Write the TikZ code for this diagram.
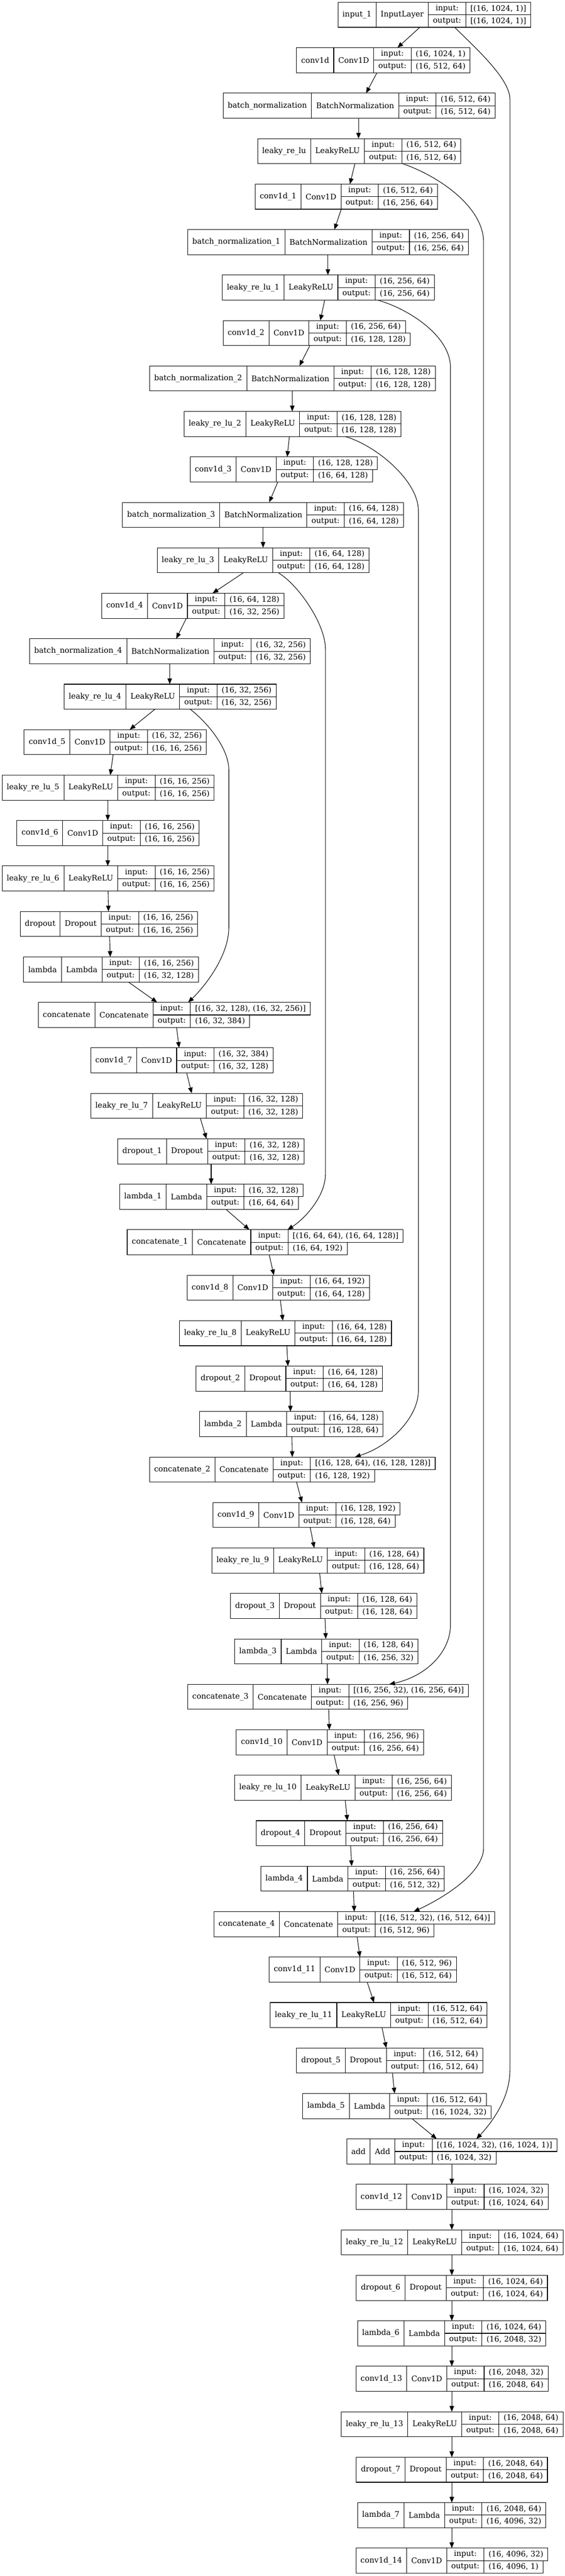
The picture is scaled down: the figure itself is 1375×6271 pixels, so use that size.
\documentclass[tikz,border=0pt]{standalone}
\usepackage{fontspec}
\setmainfont{DejaVu Serif}
\usetikzlibrary{arrows.meta}
\newcommand\lyrfont{\fontsize{18.67pt}{22pt}\selectfont}
\tikzset{
  field/.style={draw, line width=1.33pt, outer sep=0pt, inner xsep=11.2pt, inner ysep=0pt,
                minimum height=61pt, anchor=north west, font=\lyrfont},
  cell/.style={field, minimum height=30.5pt},
  arr/.style={line width=1.33pt, -{Triangle[length=14pt, width=11pt]}},
}
% #1 id, #2 row, #3 left x, #4 name, #5 class, #6 input shape, #7 output shape
\newcommand\lay[7]{%
  \pgfmathsetmacro\ytop{5.5+110.67*(#2-1)}%
  \setbox0=\hbox{\lyrfont #6}\setbox2=\hbox{\lyrfont #7}%
  \dimen0=\wd0 \ifdim\wd2>\dimen0 \dimen0=\wd2 \fi
  \advance\dimen0 by 22.4pt
  \edef\shw{\the\dimen0}%
  \node[field] (#1n) at (#3,\ytop) {#4};
  \node[field] (#1c) at (#1n.north east) {#5};
  \node[cell, minimum width=91pt] (#1i) at (#1c.north east) {input:};
  \node[cell, minimum width=91pt] (#1o) at (#1i.south west) {output:};
  \node[cell, minimum width=\shw] (#1si) at (#1i.north east) {#6};
  \node[cell, minimum width=\shw] (#1so) at (#1si.south west) {#7};
}
\newcommand\conn[4]{%
  \coordinate (ca) at (#3,0); \coordinate (cb) at (#4,0);
  \draw[arr] (ca |- #1n.south) -- (cb |- #2n.north);
}
\begin{document}
\begin{tikzpicture}[x=1pt,y=-1pt]
\fill[white] (0,0) rectangle (1375,6271);
\useasboundingbox (0,0) rectangle (1375,6271);

\lay{L1}{1}{822.8}{input\_1}{InputLayer}{[(16, 1024, 1)]}{[(16, 1024, 1)]}
\lay{L2}{2}{722.2}{conv1d}{Conv1D}{(16, 1024, 1)}{(16, 512, 64)}
\lay{L3}{3}{543.2}{batch\_normalization}{BatchNormalization}{(16, 512, 64)}{(16, 512, 64)}
\lay{L4}{4}{627.4}{leaky\_re\_lu}{LeakyReLU}{(16, 512, 64)}{(16, 512, 64)}
\lay{L5}{5}{621.3}{conv1d\_1}{Conv1D}{(16, 512, 64)}{(16, 256, 64)}
\lay{L6}{6}{457.2}{batch\_normalization\_1}{BatchNormalization}{(16, 256, 64)}{(16, 256, 64)}
\lay{L7}{7}{541.4}{leaky\_re\_lu\_1}{LeakyReLU}{(16, 256, 64)}{(16, 256, 64)}
\lay{L8}{8}{543.2}{conv1d\_2}{Conv1D}{(16, 256, 64)}{(16, 128, 128)}
\lay{L9}{9}{364.2}{batch\_normalization\_2}{BatchNormalization}{(16, 128, 128)}{(16, 128, 128)}
\lay{L10}{10}{448.4}{leaky\_re\_lu\_2}{LeakyReLU}{(16, 128, 128)}{(16, 128, 128)}
\lay{L11}{11}{463.3}{conv1d\_3}{Conv1D}{(16, 128, 128)}{(16, 64, 128)}
\lay{L12}{12}{298.4}{batch\_normalization\_3}{BatchNormalization}{(16, 64, 128)}{(16, 64, 128)}
\lay{L13}{13}{382.6}{leaky\_re\_lu\_3}{LeakyReLU}{(16, 64, 128)}{(16, 64, 128)}
\lay{L14}{14}{247.5}{conv1d\_4}{Conv1D}{(16, 64, 128)}{(16, 32, 256)}
\lay{L15}{15}{72.0}{batch\_normalization\_4}{BatchNormalization}{(16, 32, 256)}{(16, 32, 256)}
\lay{L16}{16}{156.2}{leaky\_re\_lu\_4}{LeakyReLU}{(16, 32, 256)}{(16, 32, 256)}
\lay{L17}{17}{58.8}{conv1d\_5}{Conv1D}{(16, 32, 256)}{(16, 16, 256)}
\lay{L18}{18}{5.3}{leaky\_re\_lu\_5}{LeakyReLU}{(16, 16, 256)}{(16, 16, 256)}
\lay{L19}{19}{41.2}{conv1d\_6}{Conv1D}{(16, 16, 256)}{(16, 16, 256)}
\lay{L20}{20}{5.3}{leaky\_re\_lu\_6}{LeakyReLU}{(16, 16, 256)}{(16, 16, 256)}
\lay{L21}{21}{49.1}{dropout}{Dropout}{(16, 16, 256)}{(16, 16, 256)}
\lay{L22}{22}{57.6}{lambda}{Lambda}{(16, 16, 256)}{(16, 32, 128)}
\lay{L23}{23}{93.2}{concatenate}{Concatenate}{[(16, 32, 128), (16, 32, 256)]}{(16, 32, 384)}
\lay{L24}{24}{221.1}{conv1d\_7}{Conv1D}{(16, 32, 384)}{(16, 32, 128)}
\lay{L25}{25}{221.1}{leaky\_re\_lu\_7}{LeakyReLU}{(16, 32, 128)}{(16, 32, 128)}
\lay{L26}{26}{286.9}{dropout\_1}{Dropout}{(16, 32, 128)}{(16, 32, 128)}
\lay{L27}{27}{291.3}{lambda\_1}{Lambda}{(16, 32, 128)}{(16, 64, 64)}
\lay{L28}{28}{309.8}{concatenate\_1}{Concatenate}{[(16, 64, 64), (16, 64, 128)]}{(16, 64, 192)}
\lay{L29}{29}{455.4}{conv1d\_8}{Conv1D}{(16, 64, 192)}{(16, 64, 128)}
\lay{L30}{30}{437.0}{leaky\_re\_lu\_8}{LeakyReLU}{(16, 64, 128)}{(16, 64, 128)}
\lay{L31}{31}{477.4}{dropout\_2}{Dropout}{(16, 64, 128)}{(16, 64, 128)}
\lay{L32}{32}{486.1}{lambda\_2}{Lambda}{(16, 64, 128)}{(16, 128, 64)}
\lay{L33}{33}{364.2}{concatenate\_2}{Concatenate}{[(16, 128, 64), (16, 128, 128)]}{(16, 128, 192)}
\lay{L34}{34}{518.6}{conv1d\_9}{Conv1D}{(16, 128, 192)}{(16, 128, 64)}
\lay{L35}{35}{516.0}{leaky\_re\_lu\_9}{LeakyReLU}{(16, 128, 64)}{(16, 128, 64)}
\lay{L36}{36}{561.6}{dropout\_3}{Dropout}{(16, 128, 64)}{(16, 128, 64)}
\lay{L37}{37}{571.3}{lambda\_3}{Lambda}{(16, 128, 64)}{(16, 256, 32)}
\lay{L38}{38}{457.2}{concatenate\_3}{Concatenate}{[(16, 256, 32), (16, 256, 64)]}{(16, 256, 96)}
\lay{L39}{39}{575.6}{conv1d\_10}{Conv1D}{(16, 256, 96)}{(16, 256, 64)}
\lay{L40}{40}{571.3}{leaky\_re\_lu\_10}{LeakyReLU}{(16, 256, 64)}{(16, 256, 64)}
\lay{L41}{41}{623.9}{dropout\_4}{Dropout}{(16, 256, 64)}{(16, 256, 64)}
\lay{L42}{42}{635.3}{lambda\_4}{Lambda}{(16, 256, 64)}{(16, 512, 32)}
\lay{L43}{43}{521.2}{concatenate\_4}{Concatenate}{[(16, 512, 32), (16, 512, 64)]}{(16, 512, 96)}
\lay{L44}{44}{655.5}{conv1d\_11}{Conv1D}{(16, 512, 96)}{(16, 512, 64)}
\lay{L45}{45}{658.1}{leaky\_re\_lu\_11}{LeakyReLU}{(16, 512, 64)}{(16, 512, 64)}
\lay{L46}{46}{722.2}{dropout\_5}{Dropout}{(16, 512, 64)}{(16, 512, 64)}
\lay{L47}{47}{737.1}{lambda\_5}{Lambda}{(16, 512, 64)}{(16, 1024, 32)}
\lay{L48}{48}{844.2}{add}{Add}{[(16, 1024, 32), (16, 1024, 1)]}{(16, 1024, 32)}
\lay{L49}{49}{867.0}{conv1d\_12}{Conv1D}{(16, 1024, 32)}{(16, 1024, 64)}
\lay{L50}{50}{831.0}{leaky\_re\_lu\_12}{LeakyReLU}{(16, 1024, 64)}{(16, 1024, 64)}
\lay{L51}{51}{867.8}{dropout\_6}{Dropout}{(16, 1024, 64)}{(16, 1024, 64)}
\lay{L52}{52}{870.5}{lambda\_6}{Lambda}{(16, 1024, 64)}{(16, 2048, 32)}
\lay{L53}{53}{867.0}{conv1d\_13}{Conv1D}{(16, 2048, 32)}{(16, 2048, 64)}
\lay{L54}{54}{831.0}{leaky\_re\_lu\_13}{LeakyReLU}{(16, 2048, 64)}{(16, 2048, 64)}
\lay{L55}{55}{867.8}{dropout\_7}{Dropout}{(16, 2048, 64)}{(16, 2048, 64)}
\lay{L56}{56}{870.5}{lambda\_7}{Lambda}{(16, 2048, 64)}{(16, 4096, 32)}
\lay{L57}{57}{866.7}{conv1d\_14}{Conv1D}{(16, 4096, 32)}{(16, 4096, 1)}

% main chain
\conn{L1}{L2}{1022.3}{967.9}
\conn{L2}{L3}{917.9}{891.5}
\conn{L3}{L4}{873.1}{873.1}
\conn{L4}{L5}{864.3}{852.1}
\conn{L5}{L6}{831.0}{814.3}
\conn{L6}{L7}{798.5}{798.5}
\conn{L7}{L8}{790.6}{780.1}
\conn{L8}{L9}{754.6}{729.2}
\conn{L9}{L10}{711.7}{711.7}
\conn{L10}{L11}{704.6}{699.4}
\conn{L11}{L12}{676.6}{655.5}
\conn{L12}{L13}{640.6}{640.6}
\conn{L13}{L14}{592.3}{517.7}
\conn{L14}{L15}{453.7}{429.1}
\conn{L15}{L16}{413.3}{413.3}
\conn{L16}{L17}{377.3}{315.9}
\conn{L17}{L18}{275.5}{268.5}
\conn{L18}{L19}{262.4}{262.4}
\conn{L19}{L20}{262.4}{262.4}
\conn{L20}{L21}{263.3}{264.1}
\conn{L21}{L22}{266.8}{268.5}
\conn{L22}{L23}{312.7}{382.7}
\conn{L23}{L24}{430.0}{436.1}
\conn{L24}{L25}{454.6}{466.8}
\conn{L25}{L26}{487.9}{502.8}
\conn{L26}{L27}{514.2}{514.2}
\conn{L27}{L28}{550.2}{607.2}
\conn{L28}{L29}{655.5}{666.9}
\conn{L29}{L30}{682.7}{688.8}
\conn{L30}{L31}{698.5}{701.1}
\conn{L31}{L32}{706.4}{707.3}
\conn{L32}{L33}{710.8}{711.7}
\conn{L33}{L34}{722.2}{735.3}
\conn{L34}{L35}{755.5}{765.2}
\conn{L35}{L36}{778.3}{783.6}
\conn{L36}{L37}{791.5}{793.3}
\conn{L37}{L38}{796.8}{797.6}
\conn{L38}{L39}{800.3}{802.0}
\conn{L39}{L40}{813.4}{824.8}
\conn{L40}{L41}{840.6}{845.9}
\conn{L41}{L42}{853.8}{856.4}
\conn{L42}{L43}{860.8}{862.6}
\conn{L43}{L44}{869.6}{876.6}
\conn{L44}{L45}{894.2}{910.8}
\conn{L45}{L46}{930.2}{940.7}
\conn{L46}{L47}{955.6}{960.9}
\conn{L47}{L48}{1003.0}{1063.5}
\conn{L48}{L49}{1100.2}{1100.2}
\conn{L49}{L50}{1100.2}{1100.2}
\conn{L50}{L51}{1100.2}{1100.2}
\conn{L51}{L52}{1100.2}{1100.2}
\conn{L52}{L53}{1100.2}{1100.2}
\conn{L53}{L54}{1100.2}{1100.2}
\conn{L54}{L55}{1100.2}{1100.2}
\conn{L55}{L56}{1100.2}{1100.2}
\conn{L56}{L57}{1100.2}{1100.2}

% skip connections
\coordinate (ca) at (1107.4,0); \coordinate (cb) at (1160.1,0);
\draw[arr] (ca |- L1n.south) .. controls (1152.4,112.3) and (1241.7,190) .. (1241.7,241.5)
  -- (1241.7,5040) .. controls (1241.7,5110) and (1195,5170) .. (cb |- L48n.north);
\coordinate (ca) at (980.2,0); \coordinate (cb) at (1007.4,0);
\draw[arr] (ca |- L4n.south) .. controls (1060,425) and (1177.6,500) .. (1177.6,590)
  -- (1177.6,4498) .. controls (1177.6,4560) and (1080,4620) .. (cb |- L43n.north);
\coordinate (ca) at (919.6,0); \coordinate (cb) at (947.7,0);
\draw[arr] (ca |- L7n.south) .. controls (999.6,753.4) and (1096.9,820) .. (1096.9,894)
  -- (1096.9,3956) .. controls (1096.9,4020) and (1040,4080) .. (cb |- L38n.north);
\coordinate (ca) at (839.8,0); \coordinate (cb) at (864.3,0);
\draw[arr] (ca |- L10n.south) .. controls (914.8,1083.5) and (1018.8,1170) .. (1018.8,1243)
  -- (1018.8,3385.8) .. controls (1018.8,3450) and (950,3520) .. (cb |- L33n.north);
\coordinate (ca) at (678.3,0); \coordinate (cb) at (700.2,0);
\draw[arr] (ca |- L13n.south) .. controls (728.3,1425.6) and (792.4,1520) .. (792.4,1579.4)
  -- (792.4,2859.3) .. controls (792.4,2910) and (745,2965) .. (cb |- L28n.north);
\coordinate (ca) at (463.3,0); \coordinate (cb) at (458.1,0);
\draw[arr] (ca |- L16n.south) .. controls (503.3,1757.7) and (557.2,1820) .. (557.2,1874.6)
  -- (557.2,2257.5) .. controls (557.2,2330) and (495,2405) .. (cb |- L23n.north);
\end{tikzpicture}
\end{document}
